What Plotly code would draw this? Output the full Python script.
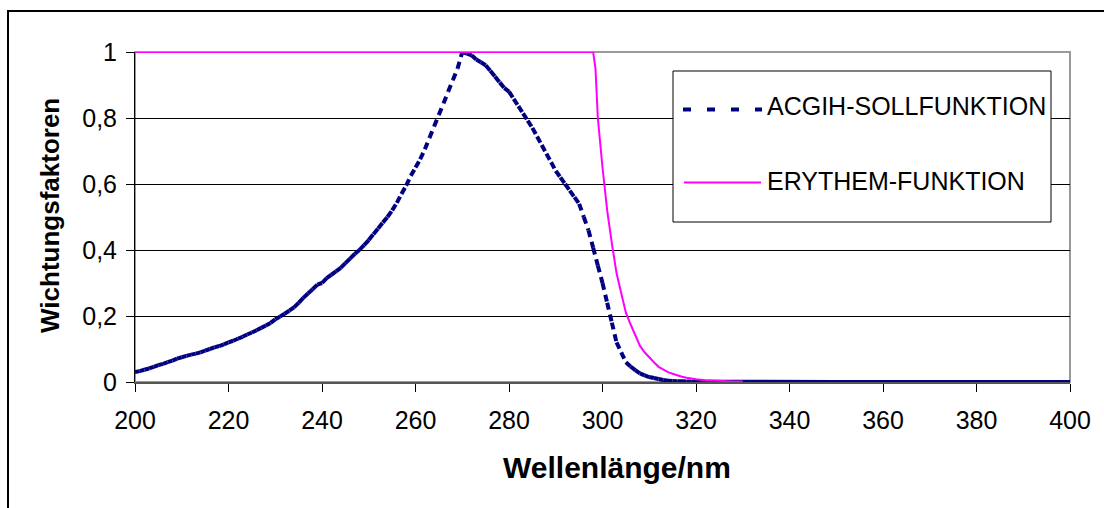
import plotly.graph_objects as go

# ---------------- data ----------------
acgih_nm = list(range(200, 321))
acgih_val = [
    0.030, 0.033, 0.037, 0.041, 0.046, 0.051, 0.055, 0.060, 0.065, 0.071,  # 200-209
    0.075, 0.079, 0.083, 0.086, 0.090, 0.095, 0.100, 0.105, 0.109, 0.114,  # 210-219
    0.120, 0.125, 0.131, 0.137, 0.144, 0.150, 0.157, 0.164, 0.171, 0.179,  # 220-229
    0.190, 0.198, 0.207, 0.216, 0.226, 0.240, 0.255, 0.268, 0.281, 0.295,  # 230-239
    0.300, 0.315, 0.325, 0.335, 0.346, 0.360, 0.374, 0.388, 0.400, 0.415,  # 240-249
    0.430, 0.448, 0.465, 0.483, 0.500, 0.520, 0.543, 0.570, 0.595, 0.625,  # 250-259
    0.650, 0.675, 0.705, 0.740, 0.775, 0.810, 0.845, 0.880, 0.915, 0.950,  # 260-269
    1.000, 0.995, 0.990, 0.977, 0.969, 0.960, 0.943, 0.926, 0.908, 0.891,  # 270-279
    0.880, 0.858, 0.836, 0.814, 0.792, 0.770, 0.744, 0.718, 0.692, 0.666,  # 280-289
    0.640, 0.620, 0.600, 0.580, 0.560, 0.540, 0.500, 0.460, 0.407, 0.353,  # 290-299
    0.300, 0.240, 0.180, 0.120, 0.090, 0.060, 0.047, 0.036, 0.026, 0.020,  # 300-309
    0.015, 0.012, 0.009, 0.006, 0.004, 0.003, 0.0024, 0.0020, 0.0016, 0.0012,  # 310-319
    0.0010,  # 320
]
acgih_tail_nm = [320, 325, 330, 340, 350, 360, 370, 380, 390, 400]
acgih_tail_val = [0.0010, 0.0005, 0.0004, 0.0003, 0.0002, 0.00013, 0.00009, 0.00006, 0.00004, 0.00003]

ery_nm = [200, 298, 298.5, 299, 300, 301, 302, 303, 304, 305, 306, 307, 308, 309, 310,
          311, 312, 313, 314, 315, 316, 317, 318, 319, 320, 322, 324, 326, 328, 330]
ery_val = [1.0, 1.0, 0.95, 0.80, 0.65, 0.52, 0.42, 0.33, 0.27, 0.21, 0.175, 0.14, 0.11, 0.09, 0.074,
           0.060, 0.046, 0.037, 0.030, 0.025, 0.020, 0.016, 0.013, 0.010, 0.0086, 0.0056, 0.0037, 0.0024, 0.0015, 0.0014]

y_tickvals = [0, 0.2, 0.4, 0.6, 0.8, 1.0]
y_ticktext = ["0", "0,2", "0,4", "0,6", "0,8", "1"]
x_tickvals = [200, 220, 240, 260, 280, 300, 320, 340, 360, 380, 400]

series_names = ["ACGIH-SOLLFUNKTION", "ERYTHEM-FUNKTION"]
x_title = "Wellenlänge/nm"
y_title = "Wichtungsfaktoren"

# ---------------- layout geometry ----------------
W, H = 1104, 508
L, R, T, B = 135, 1070, 52, 382
FONT = "Liberation Sans, Arial, sans-serif"
NAVY = "#000080"
MAGENTA = "#FF00FF"


def pxx(x):
    return (x - L) / (R - L)


def pxy(y):
    return (B - y) / (B - T)


# Excel restarts the dash pattern on every segment: build per-segment subpaths
seg_x, seg_y = [], []
for i in range(len(acgih_nm) - 1):
    seg_x += [acgih_nm[i], acgih_nm[i + 1], None]
    seg_y += [acgih_val[i], acgih_val[i + 1], None]

fig = go.Figure()
fig.add_trace(go.Scatter(
    x=seg_x, y=seg_y, mode="lines", connectgaps=False,
    line=dict(color=NAVY, width=4, dash="7px,5px"),
    name=series_names[0], showlegend=False, cliponaxis=False, hoverinfo="skip"))
fig.add_trace(go.Scatter(
    x=acgih_tail_nm, y=acgih_tail_val, mode="lines",
    line=dict(color=NAVY, width=4),
    showlegend=False, cliponaxis=False, hoverinfo="skip"))
fig.add_trace(go.Scatter(
    x=ery_nm, y=ery_val, mode="lines",
    line=dict(color=MAGENTA, width=2),
    name=series_names[1], showlegend=False, cliponaxis=False))

shapes = [
    # plot-area border (grey)
    dict(type="rect", xref="paper", yref="paper", x0=0, x1=1, y0=0, y1=1,
         line=dict(color="#999999", width=2), layer="below"),
    # outer chart border: only the left and top edges are inside the picture
    dict(type="line", xref="paper", yref="paper", x0=pxx(8), x1=pxx(1200), y0=pxy(11), y1=pxy(11),
         line=dict(color="black", width=2)),
    dict(type="line", xref="paper", yref="paper", x0=pxx(8), x1=pxx(8), y0=pxy(10), y1=pxy(600),
         line=dict(color="black", width=2)),
    # legend box
    dict(type="rect", xref="paper", yref="paper", x0=pxx(673), x1=pxx(1051), y0=pxy(71), y1=pxy(222),
         line=dict(color="black", width=1), fillcolor="white", layer="above"),
    dict(type="line", xref="paper", yref="paper", x0=pxx(683), x1=pxx(762), y0=pxy(109.5), y1=pxy(109.5),
         line=dict(color=NAVY, width=4, dash="8px,16px")),
    dict(type="line", xref="paper", yref="paper", x0=pxx(684), x1=pxx(761), y0=pxy(182.5), y1=pxy(182.5),
         line=dict(color=MAGENTA, width=2)),
]

annotations = [
    dict(text=series_names[0], xref="paper", yref="paper", x=pxx(765), y=pxy(106),
         xanchor="left", yanchor="middle", showarrow=False, font=dict(family=FONT, size=25, color="black")),
    dict(text=series_names[1], xref="paper", yref="paper", x=pxx(765), y=pxy(181),
         xanchor="left", yanchor="middle", showarrow=False, font=dict(family=FONT, size=25, color="black")),
    dict(text="<b>%s</b>" % x_title, xref="paper", yref="paper", x=pxx(617), y=pxy(467),
         xanchor="center", yanchor="middle", showarrow=False, font=dict(family=FONT, size=30, color="black")),
    dict(text="<b>%s</b>" % y_title, xref="paper", yref="paper", x=pxx(50), y=pxy(216),
         xanchor="center", yanchor="middle", showarrow=False, textangle=-90,
         font=dict(family=FONT, size=26, color="black")),
]

fig.update_layout(
    width=W, height=H, autosize=False,
    margin=dict(l=L, r=W - R, t=T, b=H - B, pad=0),
    paper_bgcolor="white", plot_bgcolor="white",
    font=dict(family=FONT, size=25, color="black"),
    showlegend=False,
    shapes=shapes, annotations=annotations,
    xaxis=dict(range=[200, 400], tickvals=x_tickvals, ticks="outside", ticklen=8, tickwidth=1,
               tickcolor="black", showline=True, linecolor="#555555", linewidth=2,
               ticklabelstandoff=7,
               showgrid=False, zeroline=False, fixedrange=True),
    yaxis=dict(range=[0, 1], tickvals=y_tickvals, ticktext=y_ticktext, ticks="outside", ticklen=8,
               tickwidth=1, tickcolor="black", showline=True, linecolor="black", linewidth=1,
               ticklabelstandoff=4,
               showgrid=True, gridcolor="black", gridwidth=1, zeroline=False, fixedrange=True),
)

fig.write_html("out.html")
